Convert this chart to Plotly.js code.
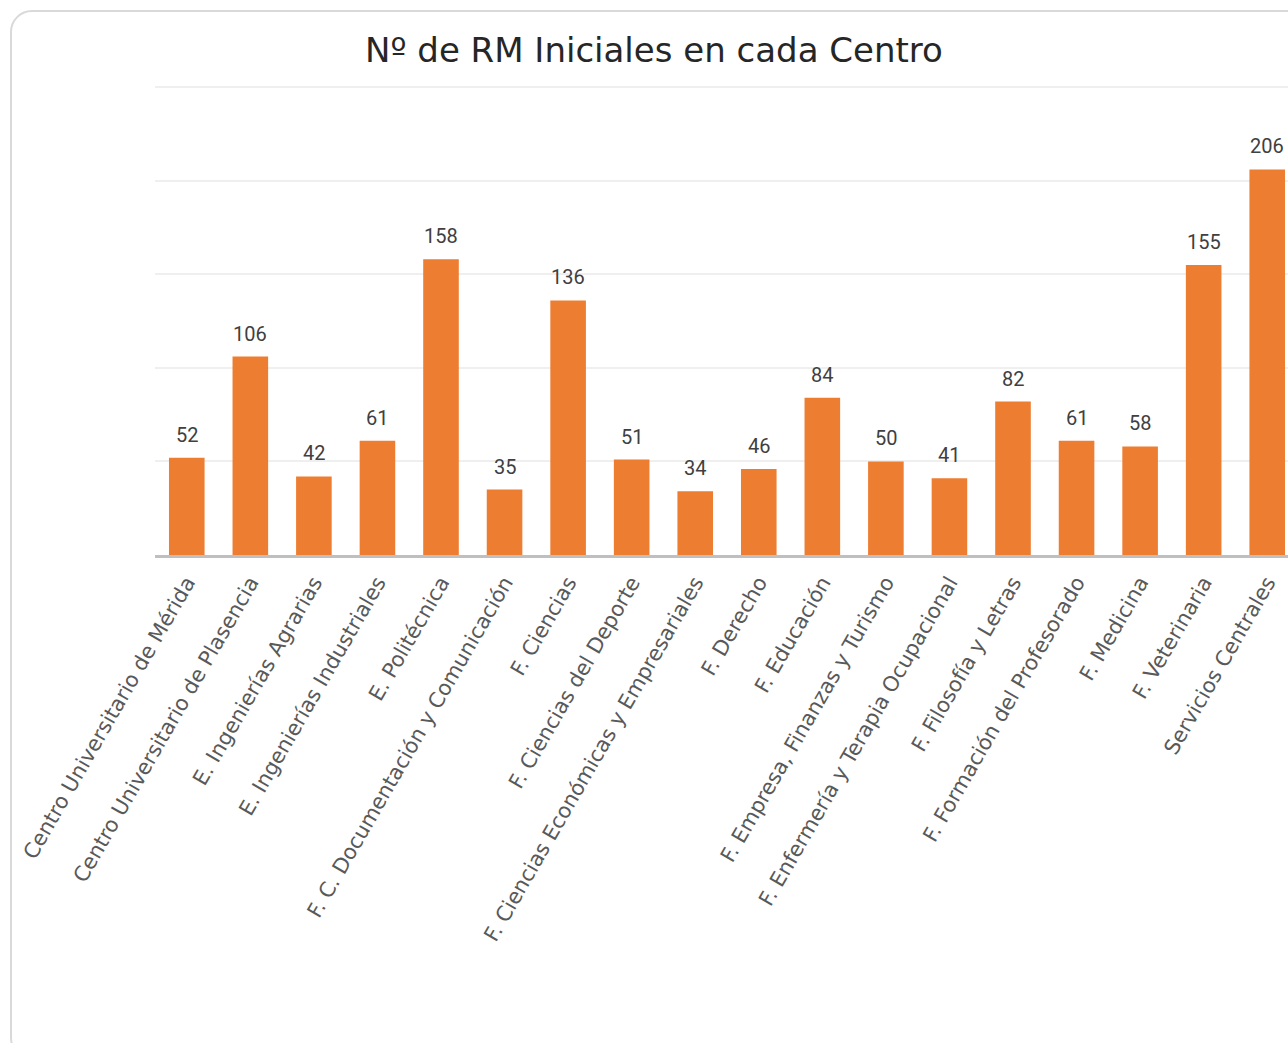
<!DOCTYPE html>
<html>
<head>
<meta charset="utf-8">
<script src="https://cdn.plot.ly/plotly-3.0.1.min.js"></script>
<style>
  html, body { margin: 0; padding: 0; background: #ffffff; overflow: hidden; width: 1288px; height: 1043px; }
  #card { position: absolute; left: 10px; top: 10px; width: 1320px; height: 1050px; border: 2px solid #D9D9D9; border-radius: 22px; box-sizing: border-box; }
  #chart { position: absolute; left: 0; top: 0; width: 1310px; height: 1043px; }
</style>
</head>
<body>
<div id="card"></div>
<div id="chart"></div>
<script>
const centros = [
  "Centro Universitario de Mérida",
  "Centro Universitario de Plasencia",
  "E. Ingenierías Agrarias",
  "E. Ingenierías Industriales",
  "E. Politécnica",
  "F. C. Documentación y Comunicación",
  "F. Ciencias",
  "F. Ciencias del Deporte",
  "F. Ciencias Económicas y Empresariales",
  "F. Derecho",
  "F. Educación",
  "F. Empresa, Finanzas y Turismo",
  "F. Enfermería y Terapia Ocupacional",
  "F. Filosofía y Letras",
  "F. Formación del Profesorado",
  "F. Medicina",
  "F. Veterinaria",
  "Servicios Centrales"
];
const rmIniciales = [52, 106, 42, 61, 158, 35, 136, 51, 34, 46, 84, 50, 41, 82, 61, 58, 155, 206];
const titulo = "Nº de RM Iniciales en cada Centro";

const trace = {
  type: "bar",
  x: centros,
  y: rmIniciales,
  marker: { color: "#ED7D31" },
  hoverinfo: "x+y"
};

const annotations = centros.map((c, i) => ({
  x: c,
  y: rmIniciales[i],
  xref: "x",
  yref: "y",
  text: String(rmIniciales[i]),
  showarrow: false,
  yanchor: "bottom",
  yshift: 9,
  font: { family: "Roboto, sans-serif", size: 20, color: "#404040" }
}));

const layout = {
  width: 1310,
  height: 1043,
  margin: { l: 155, r: 11, t: 86, b: 488 },
  paper_bgcolor: "rgba(0,0,0,0)",
  plot_bgcolor: "rgba(0,0,0,0)",
  bargap: 0.44,
  showlegend: false,
  title: {
    text: titulo,
    x: 0.4992,
    xref: "container",
    xanchor: "center",
    y: 0.952,
    yref: "container",
    yanchor: "middle",
    font: { family: "DejaVu Sans, sans-serif", size: 34, color: "#262626" }
  },
  xaxis: {
    type: "category",
    tickangle: -60,
    tickfont: { family: "DejaVu Sans, sans-serif", size: 21, color: "#595959" },
    ticklabelstandoff: 4,
    showline: true,
    linecolor: "#BFBFBF",
    linewidth: 3,
    ticks: "",
    showgrid: false,
    automargin: false
  },
  yaxis: {
    range: [0, 250.6],
    tickvals: [50, 100, 150, 200, 250],
    showticklabels: false,
    showgrid: true,
    gridcolor: "#EFEFEF",
    gridwidth: 2,
    zeroline: false,
    showline: false,
    ticks: "",
    automargin: false
  },
  annotations: annotations
};

Plotly.newPlot("chart", [trace], layout, { displayModeBar: false, staticPlot: true });
</script>
</body>
</html>
